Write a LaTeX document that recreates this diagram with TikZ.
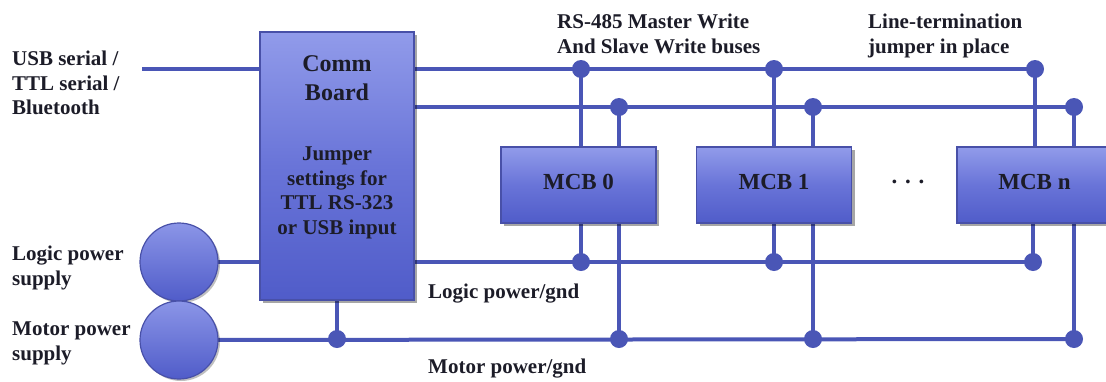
\documentclass[tikz,border=0pt]{standalone}
\usepackage{fontspec}
\setmainfont{Liberation Serif}
\usetikzlibrary{shadows,backgrounds}
\definecolor{wire}{RGB}{74,86,182}
\definecolor{boxedge}{RGB}{72,80,168}
\definecolor{boxtop}{RGB}{145,155,234}
\definecolor{boxmid}{RGB}{105,116,216}
\definecolor{boxbot}{RGB}{80,92,201}
\definecolor{ink}{RGB}{28,28,40}
\tikzset{
  wireline/.style={draw=wire, line width=4pt},
  junction/.style={circle, fill=wire, inner sep=0pt, minimum size=18pt},
  board/.style={rectangle, draw=boxedge, line width=1.2pt, top color=boxtop, bottom color=boxbot, middle color=boxmid, inner sep=0pt,
    drop shadow={shadow xshift=3pt, shadow yshift=-3pt, opacity=0.35, fill=black}},
  mcbbox/.style={board, minimum width=155pt, minimum height=76pt, text=ink,
    font=\bfseries\fontsize{23}{27}\selectfont, text depth=6pt},
  supply/.style={circle, draw=boxedge, line width=1.2pt, top color=boxtop!85!boxmid, bottom color=boxbot, inner sep=0pt, minimum size=78pt,
    drop shadow={shadow xshift=2pt, shadow yshift=-2pt, opacity=0.25, fill=black}},
  lbl/.style={font=\bfseries\fontsize{21}{24.5}\selectfont, text=ink, inner sep=0pt, align=left, anchor=north west},
}
\begin{document}
\begin{tikzpicture}[x=1pt,y=-1pt]
\useasboundingbox (0,0) rectangle (1106,381);
\clip (0,0) rectangle (1106,381);
% boards
\node[board, minimum width=154pt, minimum height=268pt] (comm) at (337,166) {};
\node[lbl, anchor=north, align=center, font=\bfseries\fontsize{24}{29}\selectfont] (commtitle) at (337,55) {Comm\\Board};
\node[lbl, anchor=north, align=center] (commnote) at (337,147) {Jumper\\settings for\\TTL RS-323\\or USB input};
\node[mcbbox] (mcb0) at (578.5,185) {MCB 0};
\node[mcbbox] (mcb1) at (774,185) {MCB 1};
\node[mcbbox] (mcbn) at (1034.5,185) {MCB n};
\node[text=ink, font=\bfseries\fontsize{23}{27}\selectfont, inner sep=0pt] (dots) at (908,182) {. . .};
% supplies
\node[supply] (lps) at (179,262) {};
\node[supply] (mps) at (179,340) {};
% junctions
\node[junction] (d01) at (581,69) {};
\node[junction] (d02) at (619,107) {};
\node[junction] (d03) at (581,262) {};
\node[junction] (d04) at (619,339) {};
\node[junction] (d11) at (774,69) {};
\node[junction] (d12) at (813,107) {};
\node[junction] (d13) at (774,262) {};
\node[junction] (d14) at (813,339) {};
\node[junction] (dn1) at (1035,69) {};
\node[junction] (dn2) at (1074,107) {};
\node[junction] (dn3) at (1033,262) {};
\node[junction] (dn4) at (1074,339) {};
\node[junction] (dc) at (337,339) {};
\coordinate (usbin) at (142,69);
% labels
\node[lbl] (usblbl) at (12,51) {USB serial /\\TTL serial /\\Bluetooth};
\node[lbl] (lpslbl) at (12,246) {Logic power\\supply};
\node[lbl] (mpslbl) at (12,322) {Motor power\\supply};
\node[lbl] (buslbl) at (557,14) {RS-485 Master Write\\And Slave Write buses};
\node[lbl] (termlbl) at (868,14) {Line-termination\\jumper in place};
\node[lbl] (logiclbl) at (428,284) {Logic power/gnd};
\node[lbl] (motorlbl) at (428,359) {Motor power/gnd};
% wires
\begin{scope}[on background layer]
\draw[wireline] (usbin) -- (usbin -| comm.center);
\draw[wireline] (comm.center |- d01) -- (dn1.center);
\draw[wireline] (comm.center |- d02) -- (dn2.center);
\draw[wireline] (lps.center) -- (dn3.center);
\draw[wireline] (mps.center) -- (dn4.center);
\draw[wireline] (dc.center) -- (dc |- comm.center);
\foreach \m in {0,1,n}{
  \draw[wireline] (d\m1.center) -- (d\m1 |- mcb\m.center);
  \draw[wireline] (d\m2.center) -- (d\m2 |- mcb\m.center);
  \draw[wireline] (d\m3.center) -- (d\m3 |- mcb\m.center);
  \draw[wireline] (d\m4.center) -- (d\m4 |- mcb\m.center);
}
\end{scope}
\end{tikzpicture}
\end{document}
